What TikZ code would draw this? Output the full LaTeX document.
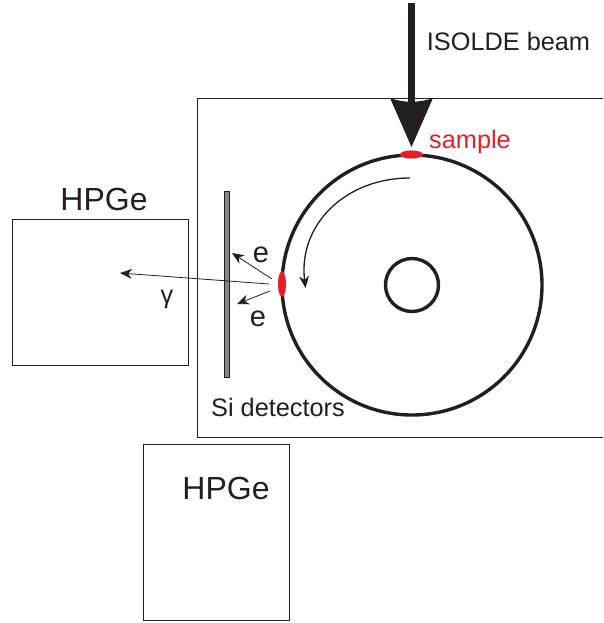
\documentclass[tikz,border=0pt]{standalone}
\usepackage{fontspec}
\setmainfont{Liberation Sans}
\usepackage{tikz}
\usetikzlibrary{arrows.meta,shapes.geometric}
\definecolor{samplered}{RGB}{237,28,36}
\definecolor{inkblack}{RGB}{35,31,32}

\begin{document}
\begin{tikzpicture}[x=1pt, y=-1pt, inkblack,
            box/.style = {draw, line width=0.7pt, inner sep=0pt, anchor=north west},
            biglabel/.style = {anchor=base, font=\fontsize{32}{36}\selectfont},
            label/.style = {anchor=base, font=\fontsize{25.3}{28}\selectfont},
            wheel/.style = {draw, circle, line width=3.4pt, inner sep=0pt},
            spot/.style = {draw=inkblack!60, line width=0.2pt, fill=samplered, ellipse, inner sep=0pt},
            ray/.style = {-{Stealth[length=12pt, width=10pt]}, line width=0.8pt}]
            \useasboundingbox (0,0) rectangle (603,623);

            \begin{scope}
            \clip (0,0) rectangle (603,623);
            \node[box, minimum width=420pt, minimum height=339pt] (chamber) at (197,98) {};
            \end{scope}
            \node[box, minimum width=176pt, minimum height=146pt] (hpge1) at (11.5,219) {};
            \node[box, minimum width=146pt, minimum height=176pt] (hpge2) at (143,444) {};
            \node[box, fill=inkblack!55, minimum width=4.5pt, minimum height=186pt, line width=0.4pt] (si) at (224,191) {};

            \node[wheel, minimum size=260pt] (disc) at (412,285) {};
            \node[wheel, minimum size=53pt] (hub) at (412,285) {};

            \node[spot, minimum width=23pt, minimum height=8pt] (sampletop) at (411.5,154.5) {};
            \node[spot, minimum width=8pt, minimum height=25pt] (sampleside) at (282,284) {};

            \node[biglabel] (lhpge1) at (104,210) {HPGe};
            \node[biglabel] (lhpge2) at (226,499) {HPGe};
            \node[label] (lbeam) at (508.5,51) {ISOLDE beam};
            \node[label, samplered] (lsample) at (470,148) {sample};
            \node[label] (lsi) at (278,416) {Si detectors};
            \node[label, font=\fontsize{29}{32}\selectfont] (le1) at (261,262) {e};
            \node[label, font=\fontsize{29}{32}\selectfont] (le2) at (258,326) {e};
            \node[label] (lgamma) at (167,303) {γ};

            \coordinate (beamstart) at (411.5,3);
            \coordinate (beamneck) at (411.5,105);
            \coordinate (gammastart) at (269,284);
            \coordinate (gammaend) at (120,273);
            \coordinate (e1start) at (272,279);
            \coordinate (e1end) at (232,253);
            \coordinate (e2start) at (270,291);
            \coordinate (e2end) at (237,304);
            \coordinate (spinstart) at (410,178);
            \coordinate (spinend) at (305.5,288);

            \draw[line width=7pt] (beamstart) -- (beamneck);
            \fill (390,98) .. controls (403,103) and (420,103) .. (433,98) -- (411.5,147) -- cycle;

            \draw[ray] (gammastart) -- (gammaend);
            \draw[ray] (e1start) -- (e1end);
            \draw[ray] (e2start) -- (e2end);
            \draw[ray, line width=1.3pt] (spinstart) .. controls (345,178) and (298,225) .. (spinend);
        \end{tikzpicture}
\end{document}
